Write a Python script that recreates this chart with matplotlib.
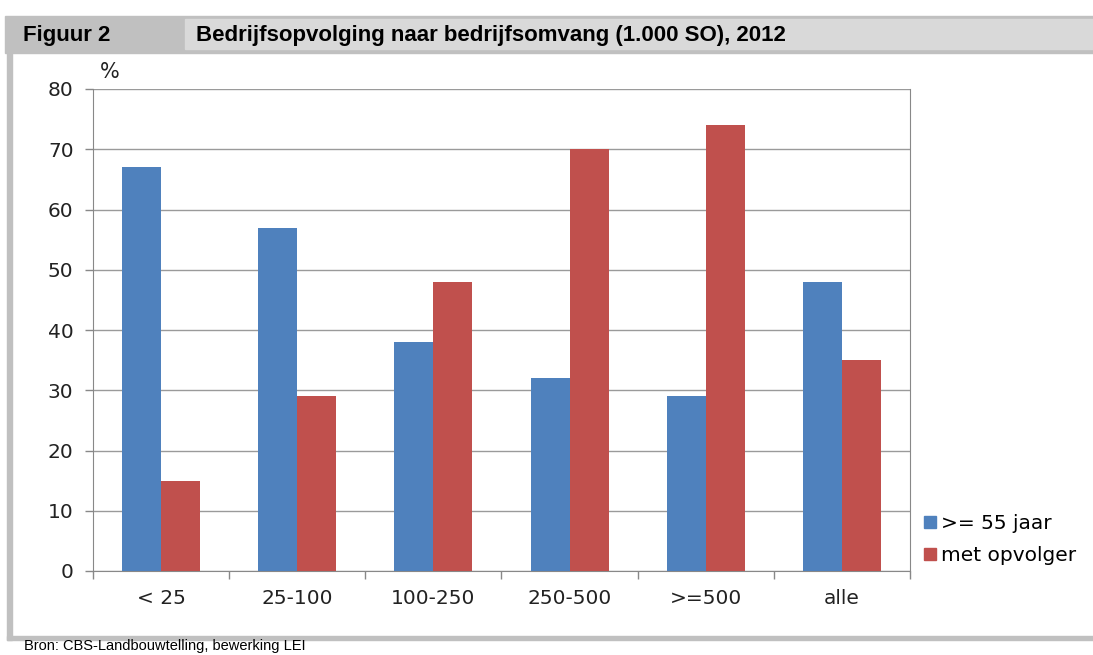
import matplotlib.pyplot as plt
from matplotlib.patches import Rectangle
from matplotlib.lines import Line2D
import numpy as np

categories = ['< 25', '25-100', '100-250', '250-500', '>=500', 'alle']
oud_55 = [67, 57, 38, 32, 29, 48]
met_opvolger = [15, 29, 48, 70, 74, 35]
series_names = ['>= 55 jaar', 'met opvolger']
y_ticks = [0, 10, 20, 30, 40, 50, 60, 70, 80]

blue = '#4F81BD'
red = '#C0504D'
W, H = 1093, 655

fig = plt.figure(figsize=(W / 100, H / 100), dpi=100)
narrow = ['Liberation Sans Narrow', 'Liberation Sans', 'DejaVu Sans']

# header band and frame (pixel coords -> figure fraction)
def px(x, y):
    return x / W, 1 - y / H

def rect(x0, y0, x1, y1, color):
    fig.patches.append(Rectangle(px(x0, y1), (x1 - x0) / W, (y1 - y0) / H,
                                 transform=fig.transFigure, color=color, zorder=0))

rect(5, 16, W, 53, '#c0c0c0')
rect(185, 19, W, 49, '#d9d9d9')
rect(7, 53, 12, 640, '#c0c0c0')
rect(7, 636, W, 640, '#c0c0c0')

fig.text(*px(23, 35), 'Figuur 2', fontsize=16, fontweight='bold', family=narrow,
         va='center', ha='left', color='#000000')
fig.text(*px(196, 35), 'Bedrijfsopvolging naar bedrijfsomvang (1.000 SO), 2012',
         fontsize=16, fontweight='bold', family=narrow, va='center', ha='left')
fig.text(*px(24, 653), 'Bron: CBS-Landbouwtelling, bewerking LEI', fontsize=10.5,
         family=narrow, va='bottom', ha='left')

ax = fig.add_axes([93 / W, 1 - 571 / H, (910 - 93) / W, (571 - 89) / H])
x = np.arange(len(categories))
bw = 0.286
ax.bar(x - bw / 2, oud_55, bw, color=blue, zorder=3)
ax.bar(x + bw / 2, met_opvolger, bw, color=red, zorder=3)

ax.set_xlim(-0.5, len(categories) - 0.5)
ax.set_ylim(0, 80)
ax.set_yticks(y_ticks)
ax.set_xticks(x)
ax.set_xticklabels(categories)
ax.set_xticks(np.arange(-0.5, len(categories) + 0.5, 1), minor=True)
ax.tick_params(axis='x', which='major', length=0, pad=13, labelsize=14.5, labelcolor='#222222')
ax.tick_params(axis='x', which='minor', length=6, color='#888888', width=1)
ax.tick_params(axis='y', length=6, color='#888888', width=1, pad=8, labelsize=14.5,
               labelcolor='#222222')
ax.yaxis.grid(True, color='#9a9a9a', linewidth=1, zorder=0)
ax.set_axisbelow(True)
for s in ['left', 'bottom', 'right']:
    ax.spines[s].set_color('#888888')
ax.spines['top'].set_visible(False)
ax.text(0.008, 1.015, '%', transform=ax.transAxes, fontsize=15, ha='left', va='bottom',
        color='#222222')

handles = [Line2D([], [], marker='s', linestyle='none', markersize=8, color=c)
           for c in (blue, red)]
fig.legend(handles, series_names, loc='upper left', bbox_to_anchor=(912 / W, 1 - 506 / H),
           frameon=False, fontsize=14.5, handletextpad=0.05, labelspacing=0.65,
           handlelength=1.0, borderaxespad=0)

fig.savefig('out.png', dpi=100)
